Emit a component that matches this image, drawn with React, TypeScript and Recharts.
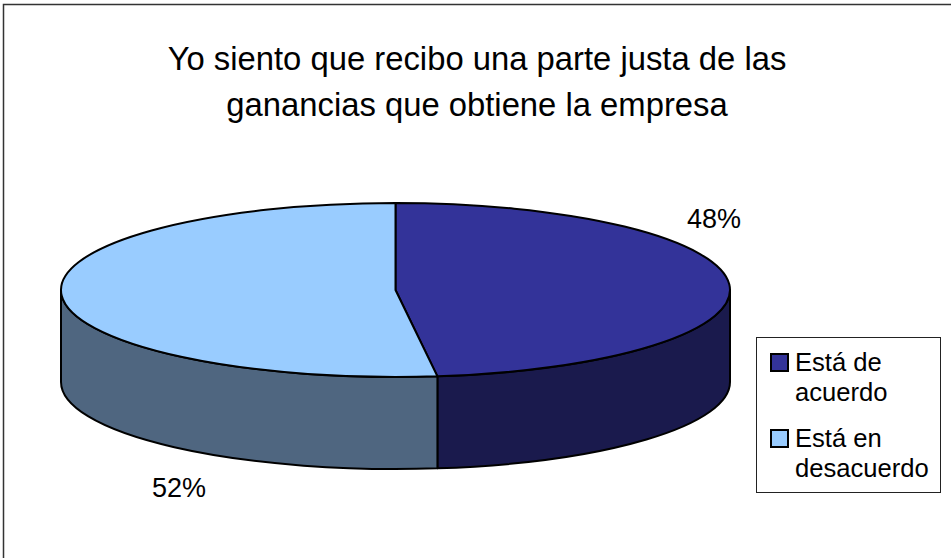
import React from "react";
import { PieChart, Pie, Legend } from "recharts";

const WIDTH = 951;
const HEIGHT = 558;
const FONT = "'Liberation Sans', Arial, sans-serif";

// Survey answers, in percent
const categories = ["Está de acuerdo", "Está en desacuerdo"];
const shares = [48, 52];
const topColors = ["#333399", "#99ccff"];
const wallColors = ["#1a1a4d", "#4f6680"];
const titleLines = [
  "Yo siento que recibo una parte justa de las",
  "ganancias que obtiene la empresa",
];

const tableData = categories.map((name, i) => ({
  name,
  value: shares[i],
  fill: topColors[i],
  wall: wallColors[i],
}));

// Flattened disc: the pie radius is horizontal, vertical is squashed by TILT
const RADIUS = 334.5;
const TILT = 87 / RADIUS;
const DEPTH = 92;
const CX = 395.5;
const CY = 290;

// Where each percent label sits around the disc
const labelSpots = [
  { x: 714, y: 219 },
  { x: 179, y: 488 },
];

const RAD = Math.PI / 180;
const pointOn = (cx: number, cy: number, r: number, deg: number) => ({
  x: cx + r * Math.cos(deg * RAD),
  y: cy - r * TILT * Math.sin(deg * RAD),
});

const TopSlice = (props: any) => {
  const { cx, cy, outerRadius: r, startAngle, endAngle, fill } = props;
  const a = pointOn(cx, cy, r, startAngle);
  const b = pointOn(cx, cy, r, endAngle);
  const large = startAngle - endAngle > 180 ? 1 : 0;
  return (
    <path
      d={`M${cx},${cy} L${a.x},${a.y} A${r},${r * TILT} 0 ${large} 1 ${b.x},${b.y} Z`}
      fill={fill}
      stroke="#000"
      strokeWidth={2}
      strokeLinejoin="round"
    />
  );
};

// Rim of a slice: only the part facing the viewer, angles 0 to -180
const WallSlice = (props: any) => {
  const { cx, cy, outerRadius: r, startAngle, endAngle, wall } = props;
  const from = Math.min(startAngle, 0);
  const to = Math.max(endAngle, -180);
  if (from <= to) return null;
  const a = pointOn(cx, cy, r, from);
  const b = pointOn(cx, cy, r, to);
  const ry = r * TILT;
  return (
    <path
      d={`M${a.x},${a.y} A${r},${ry} 0 0 1 ${b.x},${b.y} L${b.x},${b.y + DEPTH} A${r},${ry} 0 0 0 ${a.x},${a.y + DEPTH} Z`}
      fill={wall}
      stroke="#000"
      strokeWidth={2}
      strokeLinejoin="round"
    />
  );
};

const renderPercent = ({ percent, index }: any) => (
  <text
    x={labelSpots[index].x}
    y={labelSpots[index].y}
    textAnchor="middle"
    dominantBaseline="central"
    fontFamily={FONT}
    fontSize={27}
    fill="#000"
  >
    {`${Math.round(percent * 100)}%`}
  </text>
);

const LegendBox = ({ payload }: any) => {
  // both pies report their slices, keep one entry per category
  const entries = (payload ?? []).filter(
    (e: any, i: number, all: any[]) => all.findIndex((o) => o.value === e.value) === i
  );
  return (
    <div
      style={{
        boxSizing: "border-box",
        width: 185,
        height: 156,
        background: "#fff",
        border: "1px solid #222",
        padding: "15px 0 0 13px",
        fontFamily: FONT,
        fontSize: 25.6,
        lineHeight: "30px",
        color: "#000",
      }}
    >
      {entries.map((entry: any, i: number) => (
        <div key={entry.value} style={{ display: "flex", marginBottom: i === 0 ? 22 : 0 }}>
          <span
            style={{
              boxSizing: "border-box",
              flex: "none",
              width: 19,
              height: 19,
              marginRight: 6,
              background: entry.color,
              border: "2px solid #000",
            }}
          />
          <span style={{ marginTop: -6 }}>{entry.value}</span>
        </div>
      ))}
    </div>
  );
};

export default function App() {
  return (
    <div style={{ position: "absolute", left: 0, top: 0, width: WIDTH, height: HEIGHT, background: "#fff" }}>
      <PieChart width={WIDTH} height={HEIGHT} margin={{ top: 0, right: 0, bottom: 0, left: 0 }}>
        <rect x={3.5} y={4.5} width={950} height={560} fill="#fff" stroke="#333" strokeWidth={1.5} />
        <text textAnchor="middle" fontFamily={FONT} fontSize={32.8} fill="#000">
          {titleLines.map((line, i) => (
            <tspan key={line} x={477} y={70 + i * 46}>
              {line}
            </tspan>
          ))}
        </text>
        <Pie
          data={tableData}
          dataKey="value"
          nameKey="name"
          cx={CX}
          cy={CY}
          outerRadius={RADIUS}
          startAngle={90}
          endAngle={-270}
          shape={WallSlice}
          isAnimationActive={false}
        />
        <Pie
          data={tableData}
          dataKey="value"
          nameKey="name"
          cx={CX}
          cy={CY}
          outerRadius={RADIUS}
          startAngle={90}
          endAngle={-270}
          shape={TopSlice}
          label={renderPercent}
          labelLine={false}
          isAnimationActive={false}
        />
        <Legend
          layout="vertical"
          content={<LegendBox />}
          wrapperStyle={{ left: 756, top: 337, width: 185, height: 156 }}
        />
      </PieChart>
    </div>
  );
}
